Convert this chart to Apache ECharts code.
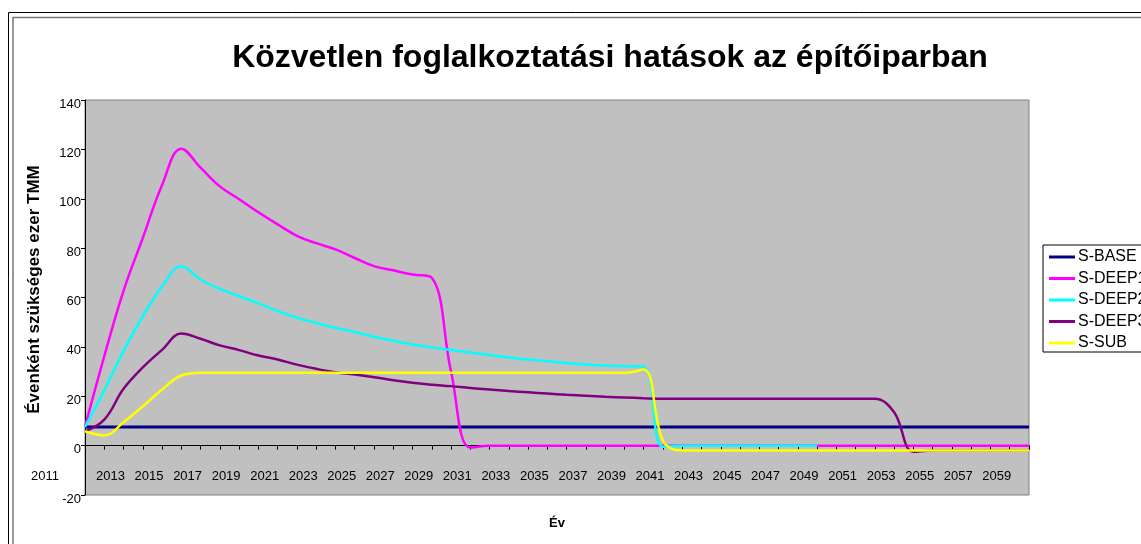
<!DOCTYPE html>
<html>
<head>
<meta charset="utf-8">
<script src="https://cdn.jsdelivr.net/npm/echarts@6/dist/echarts.min.js"></script>
<style>
  html, body { margin: 0; padding: 0; background: #fff; }
  #chart { width: 1141px; height: 544px; }
</style>
</head>
<body>
<div id="chart"></div>
<script>
// categories: years 2011..2060
const years = [
  '2011','2012','2013','2014','2015','2016','2017','2018','2019','2020',
  '2021','2022','2023','2024','2025','2026','2027','2028','2029','2030',
  '2031','2032','2033','2034','2035','2036','2037','2038','2039','2040',
  '2041','2042','2043','2044','2045','2046','2047','2048','2049','2050',
  '2051','2052','2053','2054','2055','2056','2057','2058','2059','2060'
];

// values (ezer TMM)
const sBase = [
  7.5, 7.5, 7.5, 7.5, 7.5, 7.5, 7.5, 7.5, 7.5, 7.5,
  7.5, 7.5, 7.5, 7.5, 7.5, 7.5, 7.5, 7.5, 7.5, 7.5,
  7.5, 7.5, 7.5, 7.5, 7.5, 7.5, 7.5, 7.5, 7.5, 7.5,
  7.5, 7.5, 7.5, 7.5, 7.5, 7.5, 7.5, 7.5, 7.5, 7.5,
  7.5, 7.5, 7.5, 7.5, 7.5, 7.5, 7.5, 7.5, 7.5, 7.5
];
const sDeep1 = [
  7.6, 36.2, 62.7, 84.1, 105.6, 120.3, 112.6, 105, 99.8, 94.5,
  89.6, 85, 82, 79.5, 76, 72.7, 71, 69.3, 68, 30,
  -0.8, 0, 0, 0, 0, 0, 0, 0, 0, 0,
  0, 0, 0, 0, 0, 0, 0, 0, 0, 0,
  0, 0, 0, 0, 0, 0, 0, 0, 0, 0
];
const sDeep2 = [
  7.6, 22.4, 38.4, 52.4, 64.5, 72.7, 67.3, 63.5, 60.5, 57.6,
  54.5, 51.8, 49.7, 47.7, 46, 44.1, 42.5, 41, 39.8, 38.7,
  37.7, 36.7, 35.7, 34.9, 34.2, 33.5, 32.9, 32.5, 32.2, 32,
  -0.5, 0, 0, 0, 0, 0, 0, 0, 0, null,
  null, null, null, null, null, null, null, null, null, null
];
const sDeep3 = [
  5.8, 10.5, 23, 31.7, 38.8, 45.4, 43.3, 40.6, 38.7, 36.5,
  34.9, 32.8, 31.1, 29.7, 28.8, 27.7, 26.5, 25.5, 24.7, 24.1,
  23.3, 22.7, 22.1, 21.6, 21.1, 20.6, 20.2, 19.8, 19.5, 19.2,
  19, 19, 19, 19, 19, 19, 19, 19, 19, 19,
  19, 19, 13.5, -2.5, -2, -2, -2, -2, -2, -2
];
const sSub = [
  5.8, 4.1, 9.5, 15.9, 22.7, 28.4, 29.5, 29.5, 29.5, 29.5,
  29.5, 29.5, 29.5, 29.5, 29.5, 29.5, 29.5, 29.5, 29.5, 29.5,
  29.5, 29.5, 29.5, 29.5, 29.5, 29.5, 29.5, 29.5, 29.5, 30.8,
  2, -2, -2, -2, -2, -2, -2, -2, -2, -2,
  -2, -2, -2, -2, -2, -2, -2, -2, -2, -2
];

const seriesNames = ['S-BASE', 'S-DEEP1', 'S-DEEP2', 'S-DEEP3', 'S-SUB'];
const seriesData = [sBase, sDeep1, sDeep2, sDeep3, sSub];
const seriesColors = ['#000080', '#FF00FF', '#00FFFF', '#800080', '#FFFF00'];

const font = 'Arial, "Liberation Sans", sans-serif';

const chart = echarts.init(document.getElementById('chart'), null, { renderer: 'canvas' });

chart.setOption({
  animation: false,
  backgroundColor: '#fff',
  textStyle: { fontFamily: font, color: '#000' },
  title: {
    text: 'Közvetlen foglalkoztatási hatások az építőiparban',
    left: 605,
    textAlign: 'center',
    top: 37,
    textStyle: { fontFamily: font, fontSize: 32, fontWeight: 'bold', color: '#000' }
  },
  graphic: [
    { type: 'rect', shape: { x: 8.5, y: 12.5, width: 1300, height: 700 },
      style: { fill: 'none', stroke: '#000', lineWidth: 1 }, silent: true },
    { type: 'rect', shape: { x: 13, y: 17.5, width: 1300, height: 700 },
      style: { fill: 'none', stroke: '#777', lineWidth: 1.5 }, silent: true }
  ],
  legend: {
    orient: 'vertical',
    left: 1043,
    top: 245,
    padding: [4, 30, 1, 6],
    itemGap: 5.5,
    itemWidth: 26,
    itemHeight: 3,
    icon: 'rect',
    backgroundColor: '#fff',
    borderColor: '#000',
    borderWidth: 1,
    borderRadius: 0,
    textStyle: { fontFamily: font, fontSize: 16, color: '#000', padding: [0, 0, 0, -2] },
    data: seriesNames
  },
  grid: {
    left: 85,
    right: 112,
    top: 100,
    bottom: 49,
    containLabel: false,
    outerBoundsMode: 'none',
    show: true,
    backgroundColor: '#C0C0C0',
    borderColor: '#808080',
    borderWidth: 1
  },
  xAxis: {
    type: 'category',
    data: years,
    boundaryGap: false,
    name: 'Év',
    nameLocation: 'middle',
    nameGap: 22,
    nameMoveOverlap: false,
    nameTextStyle: { fontFamily: font, fontSize: 13, fontWeight: 'bold', color: '#000' },
    axisLine: { onZero: true, lineStyle: { color: '#000', width: 1 } },
    axisTick: { show: true, interval: 0, inside: false, length: 4, lineStyle: { color: '#000' } },
    axisLabel: {
      interval: 1,
      margin: -25,
      fontFamily: font,
      fontSize: 13,
      color: '#000',
      formatter: function (v, idx) {
        return idx === 0 ? '{f|' + v + '}' : '{n|' + v + '}';
      },
      rich: {
        f: { fontFamily: font, fontSize: 13, color: '#000', padding: [0, 80, 0, 0] },
        n: { fontFamily: font, fontSize: 13, color: '#000', padding: [0, 26, 0, 0] }
      }
    },
    splitLine: { show: false }
  },
  yAxis: {
    type: 'value',
    min: -20,
    max: 140,
    interval: 20,
    name: 'Évenként szükséges ezer TMM',
    nameLocation: 'middle',
    nameGap: 42,
    nameTextStyle: { fontFamily: font, fontSize: 17, fontWeight: 'bold', color: '#000', padding: [0, 0, 0, 16] },
    axisLine: { show: true, lineStyle: { color: '#000', width: 1 } },
    axisTick: { show: true, inside: false, length: 4, lineStyle: { color: '#000' } },
    axisLabel: {
      margin: 4,
      formatter: function (v) { return '{a|' + v + '}'; },
      rich: { a: { fontFamily: font, fontSize: 13, color: '#000', padding: [8, 0, 0, 0] } }
    },
    splitLine: { show: false }
  },
  series: seriesNames.map(function (name, k) {
    return {
      name: name,
      type: 'line',
      data: seriesData[k],
      smooth: 0.4,
      showSymbol: false,
      symbol: 'none',
      connectNulls: false,
      color: seriesColors[k],
      lineStyle: { color: seriesColors[k], width: k === 0 ? 3 : 2.5 }
    };
  })
});
</script>
</body>
</html>
